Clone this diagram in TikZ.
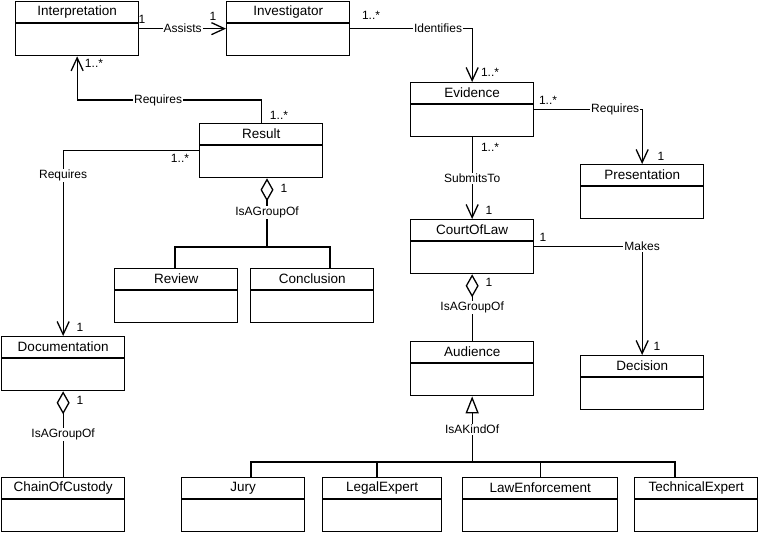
\documentclass[tikz,border=0pt]{standalone}
\usepackage{fontspec}
\setmainfont{Liberation Sans}
\usetikzlibrary{arrows.meta,calc}
\tikzset{
  cls/.style={draw, minimum height=54pt, inner sep=0pt, anchor=north west},
  ctitle/.style={inner sep=0pt, font=\fontsize{13.5}{16}\selectfont},
  lbl/.style={fill=white, inner sep=1pt, font=\fontsize{12}{14}\selectfont},
  mult/.style={inner sep=0pt, font=\fontsize{12}{14}\selectfont},
  oarr/.style={-{Straight Barb[length=13pt,width=12pt]}},
  agg/.style={-{Diamond[open,length=23pt,width=13pt]}},
  gen/.style={-{Triangle[open,length=17pt,width=13pt]}}
}
\newcommand\umlcls[5]{%
  \node[cls, minimum width=#5pt] (#1) at (#2,#3) {};
  \draw (#1.north west) ++(0,22) -- ++(#5,0);
  \node[ctitle] (#1-t) at ($(#1.north)+(0,11)$) {#4};
}
\begin{document}
\begin{tikzpicture}[x=1pt,y=-1pt,line width=1.3pt]
\useasboundingbox (0,0) rectangle (759,533);
\umlcls{interp}{15}{1}{Interpretation}{123}
\umlcls{invest}{226}{1}{Investigator}{123}
\umlcls{evid}{410}{82}{Evidence}{123}
\umlcls{pres}{580}{164}{Presentation}{123}
\umlcls{court}{410}{219}{CourtOfLaw}{123}
\umlcls{dec}{580}{355}{Decision}{123}
\umlcls{aud}{410}{341}{Audience}{123}
\umlcls{result}{199}{123}{Result}{123}
\umlcls{review}{114}{268}{Review}{123}
\umlcls{concl}{250}{268}{Conclusion}{123}
\umlcls{doc}{1}{336}{Documentation}{123}
\umlcls{chain}{1}{477}{ChainOfCustody}{123}
\umlcls{jury}{181}{477}{Jury}{123}
\umlcls{legal}{322}{477}{LegalExpert}{119}
\umlcls{lawenf}{462}{477}{LawEnforcement}{155}
\umlcls{tech}{634}{477}{TechnicalExpert}{123}

% Assists
\draw[oarr] (interp.east) -- node[lbl] {Assists} (invest.west);
\node[mult] (m1) at (142,19) {1};
\node[mult] (m2) at (213,16) {1};
% Identifies
\draw[oarr] (invest.east) -| node[lbl,pos=0.36] {Identifies} (evid.north);
\node[mult] (m3) at (371,15) {1..*};
\node[mult] (m4) at (490,72) {1..*};
% Evidence - Presentation
\draw[oarr] (evid.east) -| node[lbl,pos=0.375] {Requires} (pres.north);
\node[mult] (m5) at (548,100) {1..*};
\node[mult] (m6) at (661,156) {1};
% SubmitsTo
\draw[oarr] (evid.south) -- node[lbl] {SubmitsTo} (court.north);
\node[mult] (m7) at (490,147) {1..*};
\node[mult] (m8) at (489,210) {1};
% Makes
\draw[oarr] (court.east) -| node[lbl] {Makes} (dec.north);
\node[mult] (m9) at (543,237) {1};
\node[mult] (m10) at (657,346) {1};
% Court - Audience
\draw[agg] (aud.north) -- node[lbl] {IsAGroupOf} (court.south);
\node[mult] (m11) at (489,282) {1};
% Audience generalization
\coordinate (busy) at (0,462);
\draw[gen] (aud.south |- busy) -- node[lbl] {IsAKindOf} (aud.south);
\draw ([xshift=70pt]jury.north west) -- ++(0,-15) -| ([xshift=41pt]tech.north west);
\draw ([xshift=55pt]legal.north west) -- ++(0,-15);
\draw (lawenf.north) -- ++(0,-15);
% Documentation - ChainOfCustody
\draw[agg] (chain.north) -- node[lbl] {IsAGroupOf} (doc.south);
\node[mult] (m12) at (80,400) {1};
% Result aggregation
\coordinate (rbus) at (267,247);
\draw[agg] (rbus) -- node[lbl] {IsAGroupOf} ([xshift=68pt]result.south west);
\draw ([xshift=61pt]review.north west) -- ++(0,-21) -| ([xshift=80pt]concl.north west);
\node[mult] (m13) at (284,188) {1};
% Result -> Interpretation
\draw[oarr] (result.north) -- ++(0,-23) -| node[lbl,pos=0.28] {Requires} (interp.south);
\node[mult] (m14) at (94,63) {1..*};
\node[mult] (m15) at (279,115) {1..*};
% Result -> Documentation
\draw[oarr] (result.west) -| node[lbl,pos=0.567] {Requires} (doc.north);
\node[mult] (m16) at (180,158) {1..*};
\node[mult] (m17) at (80,327) {1};
\end{tikzpicture}
\end{document}
